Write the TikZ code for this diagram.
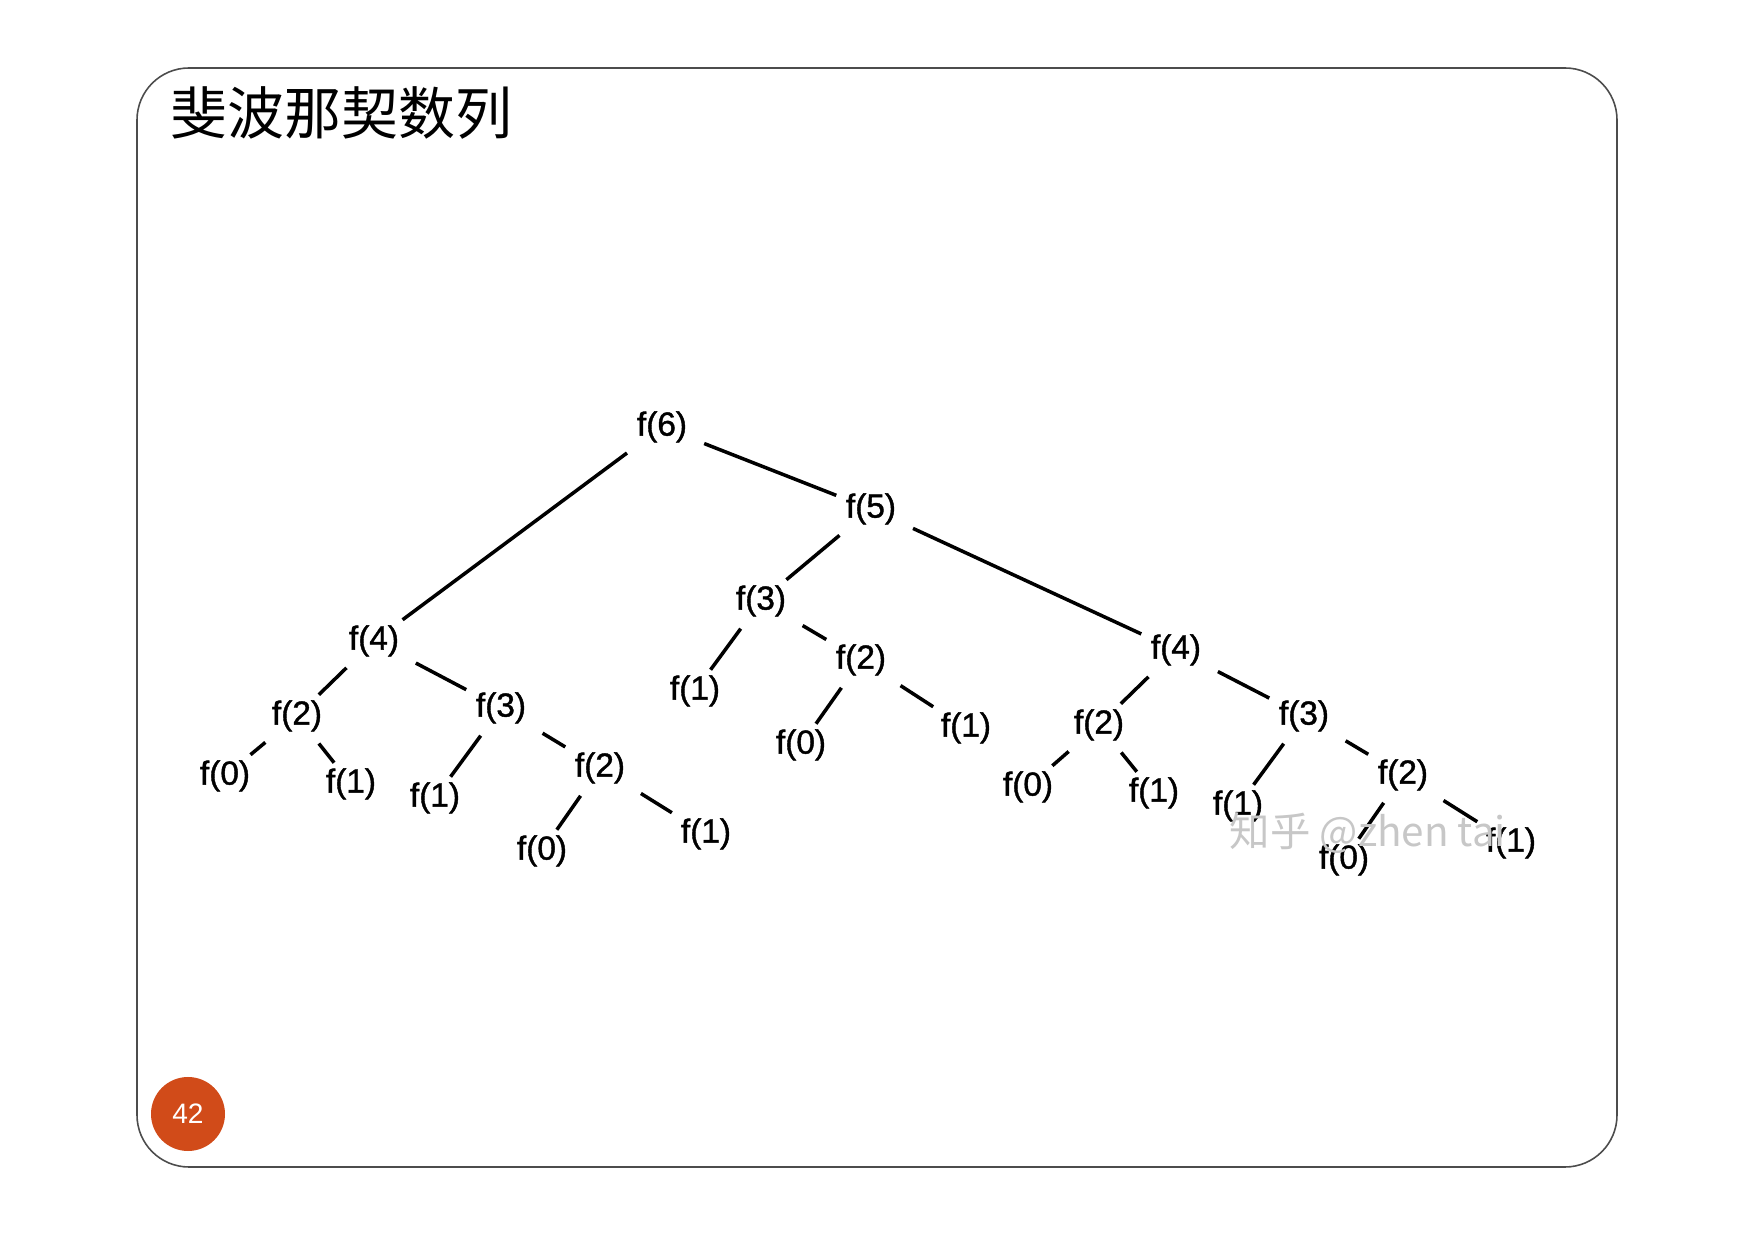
\documentclass[tikz,border=0pt]{standalone}
\usepackage{fontspec}
\setmainfont{Liberation Sans}
\newfontfamily\cjk{Noto Sans CJK SC}
\newfontfamily\treefont[FakeBold=1.2]{Liberation Sans}
\definecolor{slidered}{RGB}{209,75,25}
\tikzset{fn/.style={rectangle, inner xsep=0.09cm, inner ysep=0.05cm, font=\treefont\fontsize{9.5}{11}\selectfont},
         fe/.style={line width=1pt, shorten <=0.08cm}}

\begin{document}
\begin{tikzpicture}
\useasboundingbox (0,0) rectangle (17.55,12.41);
\draw[black!70, line width=0.45pt, rounded corners=0.52cm] (1.37,0.74) rectangle (16.17,11.73);
\node[anchor=west, inner sep=0pt] (title) at (1.70,11.28) {\cjk\fontsize{16.2}{19}\selectfont 斐波那契数列};
\node[circle, fill=slidered, minimum size=0.74cm, inner sep=0pt, text=white,
      font=\fontsize{8}{10}\selectfont] (page) at (1.88,1.27) {42};

\node[fn] (f6)   at (6.62,8.14)  {f(6)};
\node[fn] (f5)   at (8.71,7.32)  {f(5)};
\node[fn] (a4)   at (3.74,6.00)  {f(4)};
\node[fn] (a2)   at (2.97,5.25)  {f(2)};
\node[fn] (a20)  at (2.25,4.65)  {f(0)};
\node[fn] (a21)  at (3.51,4.57)  {f(1)};
\node[fn] (a3)   at (5.01,5.33)  {f(3)};
\node[fn] (a31)  at (4.35,4.43)  {f(1)};
\node[fn] (a32)  at (6.00,4.73)  {f(2)};
\node[fn] (a320) at (5.42,3.90)  {f(0)};
\node[fn] (a321) at (7.06,4.07)  {f(1)};
\node[fn] (b3)   at (7.61,6.40)  {f(3)};
\node[fn] (b1)   at (6.95,5.50)  {f(1)};
\node[fn] (b2)   at (8.61,5.81)  {f(2)};
\node[fn] (b20)  at (8.01,4.96)  {f(0)};
\node[fn] (b21)  at (9.66,5.13)  {f(1)};
\node[fn] (c4)   at (11.76,5.91) {f(4)};
\node[fn] (c2)   at (10.99,5.16) {f(2)};
\node[fn] (c20)  at (10.28,4.54) {f(0)};
\node[fn] (c21)  at (11.54,4.48) {f(1)};
\node[fn] (c3)   at (13.04,5.25) {f(3)};
\node[fn] (c31)  at (12.38,4.35) {f(1)};
\node[fn] (c32)  at (14.03,4.66) {f(2)};
\node[fn] (c320) at (13.44,3.81) {f(0)};
\node[fn] (c321) at (15.11,3.98) {f(1)};

\foreach \i/\j in {f6/a4, f6/f5, f5/b3, f5/c4,
                   a4/a2, a4/a3, a2/a20, a2/a21, a3/a31, a3/a32, a32/a320, a32/a321,
                   b3/b1, b3/b2, b2/b20, b2/b21,
                   c4/c2, c4/c3, c2/c20, c2/c21, c3/c31, c3/c32, c32/c320, c32/c321}
{
  \draw[fe] (\i) to (\j);
}

\node[text=black!22, font=\cjk\fontsize{11.5}{13}\selectfont] (mark) at (13.68,4.08) {知乎 @zhen tai};
\end{tikzpicture}
\end{document}
